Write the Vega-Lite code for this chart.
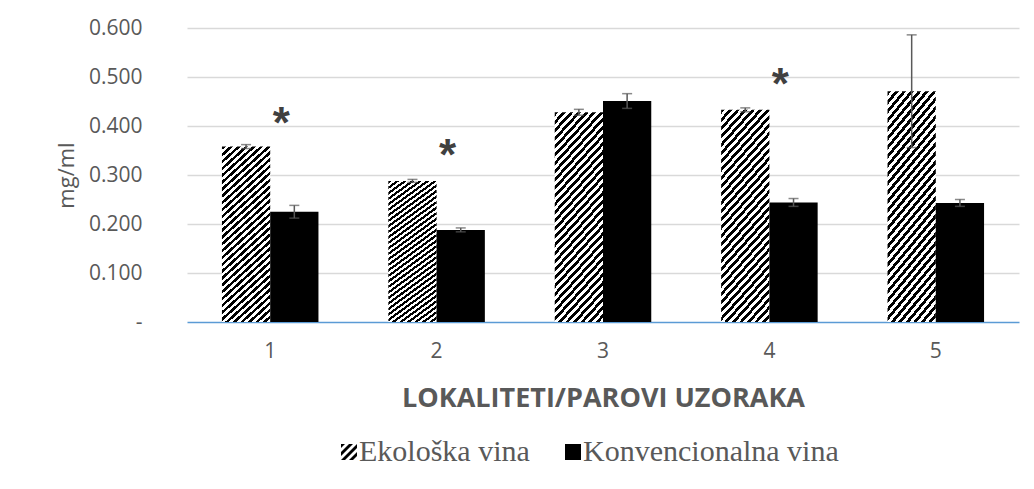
{
  "$schema": "https://vega.github.io/schema/vega-lite/v6.json",
  "width": 832,
  "height": 294,
  "autosize": {"type": "none"},
  "padding": {"left": 187, "top": 28, "right": 15, "bottom": 167},
  "background": "white",
  "config": {"view": {"stroke": null}, "font": "Open Sans"},
  "data": {"values": [
    {"loc": 1, "series": "Ekološka vina", "value": 0.358, "lo": 0.354, "hi": 0.362},
    {"loc": 1, "series": "Konvencionalna vina", "value": 0.225, "lo": 0.212, "hi": 0.238},
    {"loc": 2, "series": "Ekološka vina", "value": 0.288, "lo": 0.285, "hi": 0.291},
    {"loc": 2, "series": "Konvencionalna vina", "value": 0.188, "lo": 0.184, "hi": 0.192},
    {"loc": 3, "series": "Ekološka vina", "value": 0.428, "lo": 0.422, "hi": 0.434},
    {"loc": 3, "series": "Konvencionalna vina", "value": 0.451, "lo": 0.436, "hi": 0.466},
    {"loc": 4, "series": "Ekološka vina", "value": 0.433, "lo": 0.429, "hi": 0.437},
    {"loc": 4, "series": "Konvencionalna vina", "value": 0.244, "lo": 0.236, "hi": 0.252},
    {"loc": 5, "series": "Ekološka vina", "value": 0.471, "lo": 0.356, "hi": 0.586},
    {"loc": 5, "series": "Konvencionalna vina", "value": 0.243, "lo": 0.236, "hi": 0.25}
  ]},
  "encoding": {
    "x": {
      "field": "loc", "type": "ordinal",
      "scale": {"paddingInner": 0.42, "paddingOuter": 0.21},
      "axis": {
        "title": "LOKALITETI/PAROVI UZORAKA",
        "titleFont": "Open Sans", "titleFontWeight": "bold", "titleFontSize": 27,
        "titleColor": "#595959", "titlePadding": 24,
        "labelFontSize": 21, "labelColor": "#595959", "labelAngle": 0,
        "labelPadding": 18, "ticks": false,
        "domainColor": "#5b9bd5", "domainWidth": 1.5, "grid": false
      }
    }
  },
  "layer": [
    {
      "mark": {"type": "bar"},
      "encoding": {
        "xOffset": {"field": "series", "type": "nominal",
          "scale": {"domain": ["Ekološka vina", "Konvencionalna vina"], "paddingInner": 0, "paddingOuter": 0}},
        "y": {
          "field": "value", "type": "quantitative",
          "scale": {"domain": [0, 0.6], "nice": false},
          "axis": {
            "title": "mg/ml", "titleFontSize": 22, "titleFontWeight": "normal",
            "titleColor": "#595959", "titlePadding": 10,
            "values": [0, 0.1, 0.2, 0.3, 0.4, 0.5, 0.6],
            "labelExpr": "datum.value === 0 ? '-\u00a0\u00a0' : format(datum.value, '.3f')",
            "labelFontSize": 21, "labelColor": "#595959", "labelPadding": 45,
            "ticks": false, "domain": false,
            "gridColor": "#d9d9d9", "gridWidth": 1.5,
            "gridOpacity": {"condition": {"test": "datum.value === 0", "value": 0}, "value": 1}
          }
        },
        "fill": {
          "condition": {
            "test": "datum.series === 'Ekološka vina'",
            "value": {
              "gradient": "linear", "x1": 0, "y1": 0, "x2": 0.294, "y2": 1.176,
              "stops": [
                {"offset": 0, "color": "#000"}, {"offset": 0.015625, "color": "#000"},
                {"offset": 0.015625, "color": "#fff"}, {"offset": 0.03125, "color": "#fff"},
                {"offset": 0.03125, "color": "#000"}, {"offset": 0.046875, "color": "#000"},
                {"offset": 0.046875, "color": "#fff"}, {"offset": 0.0625, "color": "#fff"},
                {"offset": 0.0625, "color": "#000"}, {"offset": 0.078125, "color": "#000"},
                {"offset": 0.078125, "color": "#fff"}, {"offset": 0.09375, "color": "#fff"},
                {"offset": 0.09375, "color": "#000"}, {"offset": 0.109375, "color": "#000"},
                {"offset": 0.109375, "color": "#fff"}, {"offset": 0.125, "color": "#fff"},
                {"offset": 0.125, "color": "#000"}, {"offset": 0.140625, "color": "#000"},
                {"offset": 0.140625, "color": "#fff"}, {"offset": 0.15625, "color": "#fff"},
                {"offset": 0.15625, "color": "#000"}, {"offset": 0.171875, "color": "#000"},
                {"offset": 0.171875, "color": "#fff"}, {"offset": 0.1875, "color": "#fff"},
                {"offset": 0.1875, "color": "#000"}, {"offset": 0.203125, "color": "#000"},
                {"offset": 0.203125, "color": "#fff"}, {"offset": 0.21875, "color": "#fff"},
                {"offset": 0.21875, "color": "#000"}, {"offset": 0.234375, "color": "#000"},
                {"offset": 0.234375, "color": "#fff"}, {"offset": 0.25, "color": "#fff"},
                {"offset": 0.25, "color": "#000"}, {"offset": 0.265625, "color": "#000"},
                {"offset": 0.265625, "color": "#fff"}, {"offset": 0.28125, "color": "#fff"},
                {"offset": 0.28125, "color": "#000"}, {"offset": 0.296875, "color": "#000"},
                {"offset": 0.296875, "color": "#fff"}, {"offset": 0.3125, "color": "#fff"},
                {"offset": 0.3125, "color": "#000"}, {"offset": 0.328125, "color": "#000"},
                {"offset": 0.328125, "color": "#fff"}, {"offset": 0.34375, "color": "#fff"},
                {"offset": 0.34375, "color": "#000"}, {"offset": 0.359375, "color": "#000"},
                {"offset": 0.359375, "color": "#fff"}, {"offset": 0.375, "color": "#fff"},
                {"offset": 0.375, "color": "#000"}, {"offset": 0.390625, "color": "#000"},
                {"offset": 0.390625, "color": "#fff"}, {"offset": 0.40625, "color": "#fff"},
                {"offset": 0.40625, "color": "#000"}, {"offset": 0.421875, "color": "#000"},
                {"offset": 0.421875, "color": "#fff"}, {"offset": 0.4375, "color": "#fff"},
                {"offset": 0.4375, "color": "#000"}, {"offset": 0.453125, "color": "#000"},
                {"offset": 0.453125, "color": "#fff"}, {"offset": 0.46875, "color": "#fff"},
                {"offset": 0.46875, "color": "#000"}, {"offset": 0.484375, "color": "#000"},
                {"offset": 0.484375, "color": "#fff"}, {"offset": 0.5, "color": "#fff"},
                {"offset": 0.5, "color": "#000"}, {"offset": 0.515625, "color": "#000"},
                {"offset": 0.515625, "color": "#fff"}, {"offset": 0.53125, "color": "#fff"},
                {"offset": 0.53125, "color": "#000"}, {"offset": 0.546875, "color": "#000"},
                {"offset": 0.546875, "color": "#fff"}, {"offset": 0.5625, "color": "#fff"},
                {"offset": 0.5625, "color": "#000"}, {"offset": 0.578125, "color": "#000"},
                {"offset": 0.578125, "color": "#fff"}, {"offset": 0.59375, "color": "#fff"},
                {"offset": 0.59375, "color": "#000"}, {"offset": 0.609375, "color": "#000"},
                {"offset": 0.609375, "color": "#fff"}, {"offset": 0.625, "color": "#fff"},
                {"offset": 0.625, "color": "#000"}, {"offset": 0.640625, "color": "#000"},
                {"offset": 0.640625, "color": "#fff"}, {"offset": 0.65625, "color": "#fff"},
                {"offset": 0.65625, "color": "#000"}, {"offset": 0.671875, "color": "#000"},
                {"offset": 0.671875, "color": "#fff"}, {"offset": 0.6875, "color": "#fff"},
                {"offset": 0.6875, "color": "#000"}, {"offset": 0.703125, "color": "#000"},
                {"offset": 0.703125, "color": "#fff"}, {"offset": 0.71875, "color": "#fff"},
                {"offset": 0.71875, "color": "#000"}, {"offset": 0.734375, "color": "#000"},
                {"offset": 0.734375, "color": "#fff"}, {"offset": 0.75, "color": "#fff"},
                {"offset": 0.75, "color": "#000"}, {"offset": 0.765625, "color": "#000"},
                {"offset": 0.765625, "color": "#fff"}, {"offset": 0.78125, "color": "#fff"},
                {"offset": 0.78125, "color": "#000"}, {"offset": 0.796875, "color": "#000"},
                {"offset": 0.796875, "color": "#fff"}, {"offset": 0.8125, "color": "#fff"},
                {"offset": 0.8125, "color": "#000"}, {"offset": 0.828125, "color": "#000"},
                {"offset": 0.828125, "color": "#fff"}, {"offset": 0.84375, "color": "#fff"},
                {"offset": 0.84375, "color": "#000"}, {"offset": 0.859375, "color": "#000"},
                {"offset": 0.859375, "color": "#fff"}, {"offset": 0.875, "color": "#fff"},
                {"offset": 0.875, "color": "#000"}, {"offset": 0.890625, "color": "#000"},
                {"offset": 0.890625, "color": "#fff"}, {"offset": 0.90625, "color": "#fff"},
                {"offset": 0.90625, "color": "#000"}, {"offset": 0.921875, "color": "#000"},
                {"offset": 0.921875, "color": "#fff"}, {"offset": 0.9375, "color": "#fff"},
                {"offset": 0.9375, "color": "#000"}, {"offset": 0.953125, "color": "#000"},
                {"offset": 0.953125, "color": "#fff"}, {"offset": 0.96875, "color": "#fff"},
                {"offset": 0.96875, "color": "#000"}, {"offset": 0.984375, "color": "#000"},
                {"offset": 0.984375, "color": "#fff"}, {"offset": 1, "color": "#fff"}
              ]
            }
          },
          "field": "series", "type": "nominal",
          "scale": {"domain": ["Ekološka vina", "Konvencionalna vina"], "range": ["#000000", "#000000"]},
          "legend": {
            "orient": "none", "legendX": 147, "legendY": 409,
            "direction": "horizontal", "title": null,
            "symbolSize": 256, "symbolStrokeWidth": 0,
            "labelFont": "Liberation Serif", "labelFontSize": 30, "labelColor": "#595959",
            "labelOffset": -5, "columnPadding": 28, "labelLimit": 0
          }
        }
      }
    },
    {
      "mark": {"type": "point", "filled": true, "color": "#000000", "opacity": 0},
      "encoding": {
        "y": {"field": "value", "type": "quantitative"},
        "shape": {
          "field": "series", "type": "nominal",
          "scale": {
            "domain": ["Ekološka vina", "Konvencionalna vina"],
            "range": ["M-1,-1L-0.5,-1L-1,-0.5Z M0,-1L0.5,-1L-1,0.5L-1,0Z M-1,1L1,-1L1,-0.5L-0.5,1Z M1,0L1,0.5L0.5,1L0,1Z", "square"]
          },
          "legend": {
            "orient": "none", "legendX": 147, "legendY": 409,
            "direction": "horizontal", "title": null,
            "symbolSize": 256, "symbolStrokeWidth": 0,
            "labelFont": "Liberation Serif", "labelFontSize": 30, "labelColor": "#595959",
            "labelOffset": -5, "columnPadding": 28, "labelLimit": 0
          }
        }
      }
    },
    {
      "mark": {"type": "rule", "color": "#595959", "strokeWidth": 1.5},
      "encoding": {
        "xOffset": {"field": "series", "type": "nominal"},
        "y": {"field": "lo", "type": "quantitative"},
        "y2": {"field": "hi"}
      }
    },
    {
      "mark": {"type": "tick", "orient": "horizontal", "size": 10, "thickness": 1.5, "color": "#595959"},
      "encoding": {
        "xOffset": {"field": "series", "type": "nominal"},
        "y": {"field": "lo", "type": "quantitative"}
      }
    },
    {
      "mark": {"type": "tick", "orient": "horizontal", "size": 10, "thickness": 1.5, "color": "#595959"},
      "encoding": {
        "xOffset": {"field": "series", "type": "nominal"},
        "y": {"field": "hi", "type": "quantitative"}
      }
    },
    {
      "data": {"values": [
        {"loc": 1, "star": 0.419},
        {"loc": 2, "star": 0.353},
        {"loc": 4, "star": 0.497}
      ]},
      "mark": {"type": "text", "text": "*", "font": "Liberation Sans", "fontSize": 44, "fontWeight": "bold", "dx": 11, "dy": 8, "color": "#404040"},
      "encoding": {
        "y": {"field": "star", "type": "quantitative"}
      }
    }
  ]
}
